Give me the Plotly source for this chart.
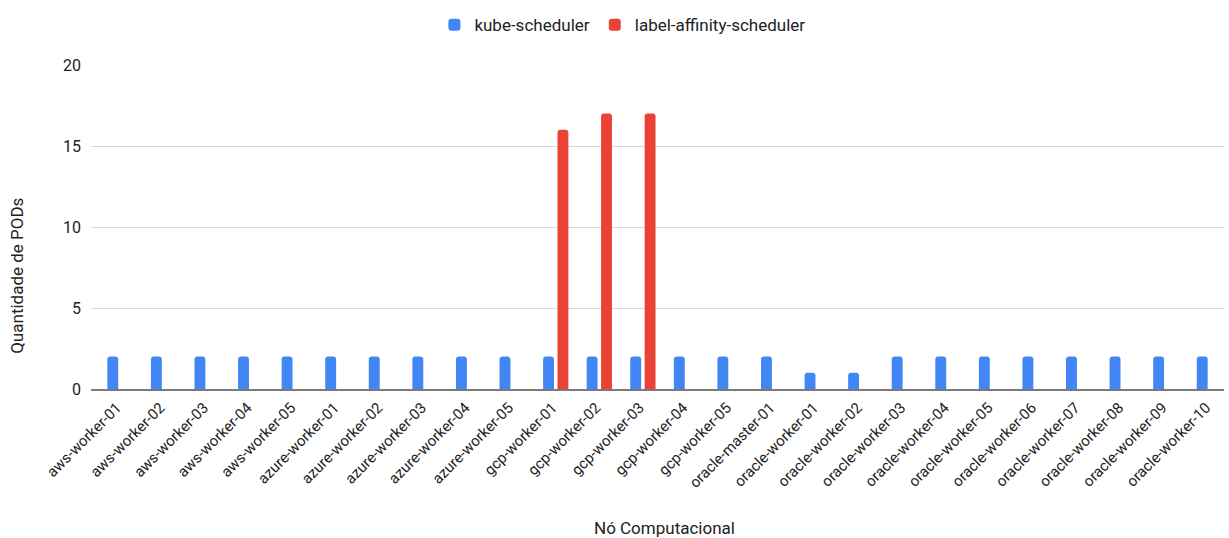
import plotly.graph_objects as go

nodes = [
    "aws-worker-01", "aws-worker-02", "aws-worker-03", "aws-worker-04", "aws-worker-05",
    "azure-worker-01", "azure-worker-02", "azure-worker-03", "azure-worker-04", "azure-worker-05",
    "gcp-worker-01", "gcp-worker-02", "gcp-worker-03", "gcp-worker-04", "gcp-worker-05",
    "oracle-master-01",
    "oracle-worker-01", "oracle-worker-02", "oracle-worker-03", "oracle-worker-04", "oracle-worker-05",
    "oracle-worker-06", "oracle-worker-07", "oracle-worker-08", "oracle-worker-09", "oracle-worker-10",
]
kube_scheduler = [2, 2, 2, 2, 2, 2, 2, 2, 2, 2, 2, 2, 2, 2, 2, 2, 1, 1, 2, 2, 2, 2, 2, 2, 2, 2]
label_affinity = [0, 0, 0, 0, 0, 0, 0, 0, 0, 0, 16, 17, 17, 0, 0, 0, 0, 0, 0, 0, 0, 0, 0, 0, 0, 0]
y_ticks = [0, 5, 10, 15, 20]

BLUE = "#4285F4"
RED = "#EA4335"
TXT = "#222222"
FONT = "Roboto"

fig = go.Figure()
fig.add_trace(go.Bar(
    x=nodes, y=kube_scheduler, name="kube-scheduler",
    marker=dict(color=BLUE, line=dict(width=0)),
    width=0.25, offset=-0.125,
))
fig.add_trace(go.Bar(
    x=nodes, y=label_affinity, name="label-affinity-scheduler",
    marker=dict(color=RED, line=dict(width=0)),
    width=0.25, offset=0.205,
))

fig.update_layout(
    width=1229, height=538, autosize=False,
    margin=dict(l=91, r=5, t=65, b=149, autoexpand=False),
    paper_bgcolor="white", plot_bgcolor="white",
    barmode="overlay",
    barcornerradius=3,
    font=dict(family=FONT, size=15, color=TXT),
    showlegend=True,
    legend=dict(
        orientation="h", x=0.469, xanchor="center",
        y=1.123, yanchor="middle",
        font=dict(family=FONT, size=17, color=TXT),
        itemsizing="constant", traceorder="normal",
    ),
    xaxis=dict(
        type="category", tickangle=-45,
        showgrid=False, showline=True, linecolor="#7a7a7a", linewidth=2,
        ticks="", tickfont=dict(family=FONT, size=15, color=TXT),
        ticklabelstandoff=2, ticklabelshift=4,
        range=[-0.5, 25.5], fixedrange=True, automargin=False,
    ),
    yaxis=dict(
        range=[0, 20], tickvals=y_ticks, showgrid=True, gridcolor="#d9d9d9", gridwidth=1,
        zeroline=False, ticks="", ticklabelstandoff=9,
        tickfont=dict(family=FONT, size=16, color=TXT),
        fixedrange=True, automargin=False,
    ),
    annotations=[
        dict(text="Nó Computacional", xref="paper", yref="paper", x=0.506, y=-0.428,
             xanchor="center", yanchor="middle", showarrow=False,
             font=dict(family=FONT, size=17, color=TXT)),
        dict(text="Quantidade de PODs", xref="paper", yref="paper", x=-0.066, y=0.35,
             xanchor="center", yanchor="middle", showarrow=False, textangle=-90,
             font=dict(family=FONT, size=17, color=TXT)),
    ],
)

fig.write_html("out.html", config=dict(displayModeBar=False))
